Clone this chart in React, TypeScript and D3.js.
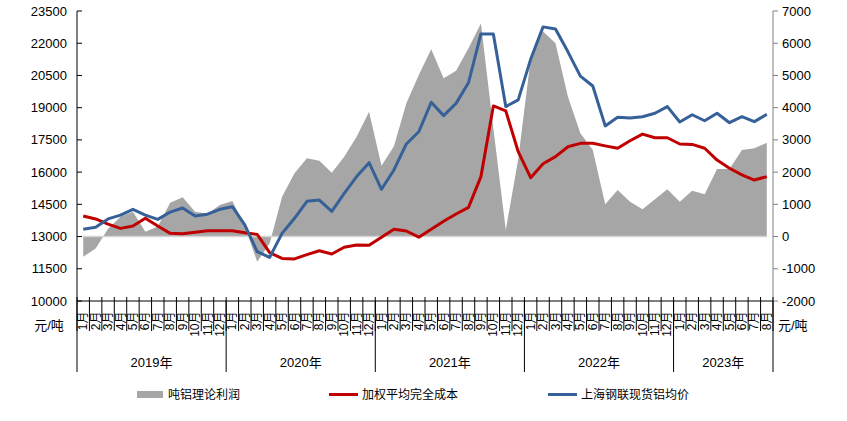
import React from "react";
import * as d3 from "d3";

const years = ["2019年", "2020年", "2021年", "2022年", "2023年"];
const monthsPerYear = [12, 12, 12, 12, 8];

const price = [
  13340, 13430, 13820, 14000, 14270, 14000, 13800, 14140, 14330, 13960, 14040, 14270,
  14390, 13540, 12300, 12030, 13150, 13850, 14640, 14700, 14170, 15010, 15790, 16440,
  15200, 16100, 17310, 17880, 19250, 18630, 19200, 20160, 22430, 22430, 19050, 19360,
  21250, 22760, 22660, 21600, 20470, 20010, 18150, 18550, 18520, 18580, 18740, 19050,
  18330, 18670, 18390, 18740, 18300, 18580, 18350, 18690,
];

const cost = [
  13960, 13820, 13580, 13380, 13490, 13850, 13490, 13150, 13130, 13200, 13270, 13270,
  13270, 13180, 13100, 12250, 11980, 11960, 12160, 12340, 12190, 12500, 12610, 12590,
  12970, 13340, 13260, 12970, 13340, 13710, 14050, 14360, 15790, 19080, 18850, 16950,
  15740, 16390, 16720, 17180, 17340, 17340, 17220, 17110, 17460, 17770, 17600, 17600,
  17310, 17290, 17110, 16560, 16180, 15870, 15630, 15790,
];

const profit = [
  -625, -372, 240, 616, 770, 150, 310, 1050, 1218, 770, 708, 979,
  1103, 320, -780, -216, 1236, 1962, 2428, 2354, 1981, 2480, 3098, 3874,
  2200, 2800, 4134, 5013, 5810, 4910, 5146, 5841, 6610, 3350, 200, 2400,
  5510, 6363, 5996, 4340, 3204, 2686, 1000, 1444, 1082, 845, 1156, 1466,
  1082, 1423, 1311, 2096, 2096, 2686, 2738, 2912,
];

const leftTicks = [10000, 11500, 13000, 14500, 16000, 17500, 19000, 20500, 22000, 23500];
const rightTicks = [-2000, -1000, 0, 1000, 2000, 3000, 4000, 5000, 6000, 7000];

const seriesNames = ["吨铝理论利润", "加权平均完全成本", "上海钢联现货铝均价"];
const unitLabel = "元/吨";

const FONT = "'Liberation Sans', Arial, 'Noto Sans CJK SC', sans-serif";

export default function App() {
  const W = 847;
  const H = 421;
  const left = 77;
  const right = 773;
  const top = 11;
  const bottom = 301;

  const months: { label: string; yearIdx: number }[] = [];
  monthsPerYear.forEach((n, yi) => {
    for (let m = 1; m <= n; m++) months.push({ label: `${m}月`, yearIdx: yi });
  });
  const idx = months.map((_, i) => i);

  const x = d3.scaleBand<number>().domain(idx).range([left, right]).padding(0);
  const bw = x.bandwidth();
  const cx = (i: number) => (x(i) as number) + bw / 2;
  const yL = d3.scaleLinear().domain([10000, 23500]).range([bottom, top]);
  const yR = d3.scaleLinear().domain([-2000, 7000]).range([bottom, top]);

  const area = d3
    .area<number>()
    .x((_, i) => cx(i))
    .y0(yR(0))
    .y1((d) => yR(d));
  const lineL = d3
    .line<number>()
    .x((_, i) => cx(i))
    .y((d) => yL(d));

  const boundaries = d3.range(0, months.length + 1).map((i) =>
    i < months.length ? (x(i) as number) : right
  );
  const yearStarts: number[] = [];
  let acc = 0;
  monthsPerYear.forEach((n) => {
    yearStarts.push(acc);
    acc += n;
  });
  yearStarts.push(acc);

  const red = "#c00000";
  const blue = "#366198";
  const gray = "#a6a6a6";

  return (
    <svg
      width={W}
      height={H}
      style={{ position: "absolute", left: 0, top: 0, background: "#fff" }}
      fontFamily={FONT}
    >
      <rect width={W} height={H} fill="#fff" />
      {/* profit area */}
      <path d={area(profit) || ""} fill={gray} />
      <line x1={cx(0)} x2={cx(months.length - 1)} y1={yR(0)} y2={yR(0)} stroke="#d4d4d4" strokeWidth={1.5} />
      {/* lines */}
      <path d={lineL(cost) || ""} fill="none" stroke={red} strokeWidth={3} strokeLinejoin="round" />
      <path d={lineL(price) || ""} fill="none" stroke={blue} strokeWidth={3} strokeLinejoin="round" />

      {/* left axis */}
      <line x1={left} x2={left} y1={top} y2={bottom} stroke="#000" strokeWidth={1} />
      {leftTicks.map((t) => (
        <g key={"l" + t}>
          <line x1={left} x2={left + 5} y1={yL(t)} y2={yL(t)} stroke="#000" />
          <text x={67} y={yL(t)} textAnchor="end" dominantBaseline="central" fontSize={13} fill="#000">
            {t}
          </text>
        </g>
      ))}
      {/* right axis */}
      <line x1={right} x2={right} y1={top} y2={bottom} stroke="#808080" strokeWidth={1} />
      {rightTicks.map((t) => (
        <g key={"r" + t}>
          <line x1={right} x2={right + 5} y1={yR(t)} y2={yR(t)} stroke="#808080" />
          <text x={782} y={yR(t)} textAnchor="start" dominantBaseline="central" fontSize={13} fill="#000">
            {t}
          </text>
        </g>
      ))}

      {/* x axis */}
      <line x1={left} x2={right} y1={bottom} y2={bottom} stroke="#000" />
      {boundaries.map((bx, i) => (
        <line key={"b" + i} x1={bx} x2={bx} y1={297} y2={331} stroke="#000" />
      ))}
      {yearStarts.map((yi, k) => {
        const bx = yi < months.length ? (x(yi) as number) : right;
        return <line key={"y" + k} x1={bx} x2={bx} y1={bottom} y2={372} stroke="#000" />;
      })}
      {months.map((m, i) => (
        <text
          key={"m" + i}
          transform={`translate(${cx(i)},311.5) rotate(-90)`}
          textAnchor="end"
          dominantBaseline="central"
          fontSize={12}
          fill="#000"
        >
          {m.label}
        </text>
      ))}
      {years.map((yname, k) => {
        const a = x(yearStarts[k]) as number;
        const b = yearStarts[k + 1] < months.length ? (x(yearStarts[k + 1]) as number) : right;
        return (
          <text key={"yl" + k} x={(a + b) / 2} y={362} textAnchor="middle" dominantBaseline="central" fontSize={13} fill="#000">
            {yname}
          </text>
        );
      })}
      <text x={49} y={325} textAnchor="middle" dominantBaseline="central" fontSize={13} fill="#000">
        {unitLabel}
      </text>
      <text x={778} y={325} textAnchor="start" dominantBaseline="central" fontSize={13} fill="#000">
        {unitLabel}
      </text>

      {/* legend */}
      <rect x={137} y={391} width={26} height={7} fill={gray} />
      <text x={168} y={394.5} dominantBaseline="central" fontSize={12} fill="#000">
        {seriesNames[0]}
      </text>
      <line x1={329} x2={358} y1={394.5} y2={394.5} stroke={red} strokeWidth={3} />
      <text x={362} y={394.5} dominantBaseline="central" fontSize={12} fill="#000">
        {seriesNames[1]}
      </text>
      <line x1={548} x2={577} y1={394.5} y2={394.5} stroke={blue} strokeWidth={3} />
      <text x={581} y={394.5} dominantBaseline="central" fontSize={12} fill="#000">
        {seriesNames[2]}
      </text>
    </svg>
  );
}
